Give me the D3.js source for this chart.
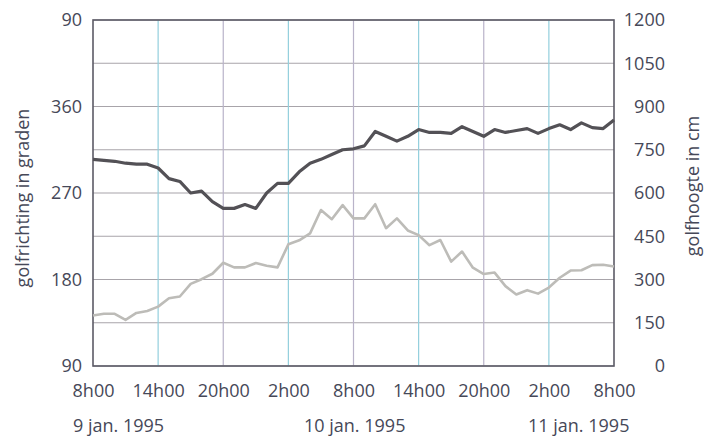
<!DOCTYPE html>
<html>
<head>
<meta charset="utf-8">
<script src="https://cdn.jsdelivr.net/npm/d3@7"></script>
<style>
  html, body { margin: 0; padding: 0; background: #ffffff; }
  svg { display: block; }
  text { font-family: "Open Sans", "Noto Sans", sans-serif; fill: #464858; }
</style>
</head>
<body>
<svg id="chart" width="717" height="444"></svg>
<script>
// ---- data (hour offsets from 9 jan. 1995 8h00) ----
const hours = [0,1,2,3,4,5,6,7,8,9,10,11,12,13,14,15,16,17,18,19,20,21,22,23,24,
               25,26,27,28,29,30,31,32,33,34,35,36,37,38,39,40,41,42,43,44,45,46,47,48];
// golfrichting (degrees; values above 360 wrap round to the top of the axis)
const direction = [305,304,303,301,300,300,296,285,282,270,272,261,254,254,258,254,270,280,280,292,
                   301,305,310,315,316,319,334,329,324,329,336,333,333,332,339,334,329,336,333,335,
                   337,332,337,341,336,343,338,337,346];
// golfhoogte (cm)
const height = [175,181,181,160,184,191,206,235,241,285,301,320,358,342,342,357,348,342,422,436,
                460,541,509,558,512,512,561,478,512,470,454,419,437,362,397,341,319,324,277,248,
                263,251,272,306,331,332,350,351,345];

const xTickHours = [0,6,12,18,24,30,36,42,48];
const xTickLabels = ["8h00","14h00","20h00","2h00","8h00","14h00","20h00","2h00","8h00"];
const dirTicks = [90,180,270,360,450];
const dirTickLabels = ["90","180","270","360","90"];
const heightTicks = [0,150,300,450,600,750,900,1050,1200];
const dateLabels = ["9 jan. 1995","10 jan. 1995","11 jan. 1995"];

// ---- layout ----
const L = 93, R = 614, T = 20, B = 366;
const start = new Date(1995, 0, 9, 8, 0, 0);
const toDate = h => new Date(start.getTime() + h * 3600 * 1000);

const svg = d3.select("#chart");
const x = d3.scaleTime().domain([toDate(0), toDate(48)]).range([L, R]);
const yDir = d3.scaleLinear().domain([90, 450]).range([B, T]);
const yH = d3.scaleLinear().domain([0, 1200]).range([B, T]);

// grid
const grid = svg.append("g");
grid.selectAll("line.h").data(heightTicks).join("line")
  .attr("x1", L).attr("x2", R)
  .attr("y1", d => yH(d)).attr("y2", d => yH(d))
  .attr("stroke", "#a8a4aa").attr("stroke-width", 1.2);
grid.selectAll("line.v").data(xTickHours.slice(1, -1)).join("line")
  .attr("x1", d => x(toDate(d))).attr("x2", d => x(toDate(d)))
  .attr("y1", T).attr("y2", B)
  .attr("stroke", (d, i) => i % 2 === 0 ? "#93cfdd" : "#b9b3c9").attr("stroke-width", 1.2);

// frame
svg.append("rect").attr("x", L).attr("y", T).attr("width", R - L).attr("height", B - T)
  .attr("fill", "none").attr("stroke", "#5c5b66").attr("stroke-width", 1.6);

// lines
const rows = hours.map((h, i) => ({ t: toDate(h), dir: direction[i], h: height[i] }));
svg.append("path").datum(rows)
  .attr("fill", "none").attr("stroke", "#bdbcb8").attr("stroke-width", 2.6)
  .attr("stroke-linejoin", "round")
  .attr("d", d3.line().x(d => x(d.t)).y(d => yH(d.h)));
svg.append("path").datum(rows)
  .attr("fill", "none").attr("stroke", "#535156").attr("stroke-width", 3.2)
  .attr("stroke-linejoin", "round")
  .attr("d", d3.line().x(d => x(d.t)).y(d => yDir(d.dir)));

// axes
const fontSize = "18px";
const leftAxis = svg.append("g").attr("transform", `translate(${L},0)`)
  .call(d3.axisLeft(yDir).tickValues(dirTicks).tickSize(0).tickPadding(11)
    .tickFormat((d, i) => dirTickLabels[i]));
const rightAxis = svg.append("g").attr("transform", `translate(${R},0)`)
  .call(d3.axisRight(yH).tickValues(heightTicks).tickSize(0).tickPadding(51)
    .tickFormat(d3.format("d")));
rightAxis.selectAll("text").attr("text-anchor", "end");
const bottomAxis = svg.append("g").attr("transform", `translate(0,${B})`)
  .call(d3.axisBottom(x).tickValues(xTickHours.map(toDate)).tickSize(0).tickPadding(18)
    .tickFormat((d, i) => xTickLabels[i]));
[leftAxis, rightAxis, bottomAxis].forEach(a => {
  a.select(".domain").remove();
  a.selectAll("text").attr("font-size", fontSize)
    .attr("font-family", "'Open Sans', 'Noto Sans', sans-serif").attr("fill", "#464858");
});

// date labels
const dateX = [73, 304, 528];
svg.selectAll("text.date").data(dateLabels).join("text")
  .attr("class", "date")
  .attr("x", (d, i) => dateX[i])
  .attr("y", 432)
  .attr("font-size", fontSize)
  .text(d => d);

// axis titles
svg.append("text")
  .attr("transform", "translate(29,198) rotate(-90)")
  .attr("text-anchor", "middle").attr("font-size", "18px")
  .text("golfrichting in graden");
svg.append("text")
  .attr("transform", "translate(699,186) rotate(-90)")
  .attr("text-anchor", "middle").attr("font-size", "18px")
  .text("golfhoogte in cm");
</script>
</body>
</html>
